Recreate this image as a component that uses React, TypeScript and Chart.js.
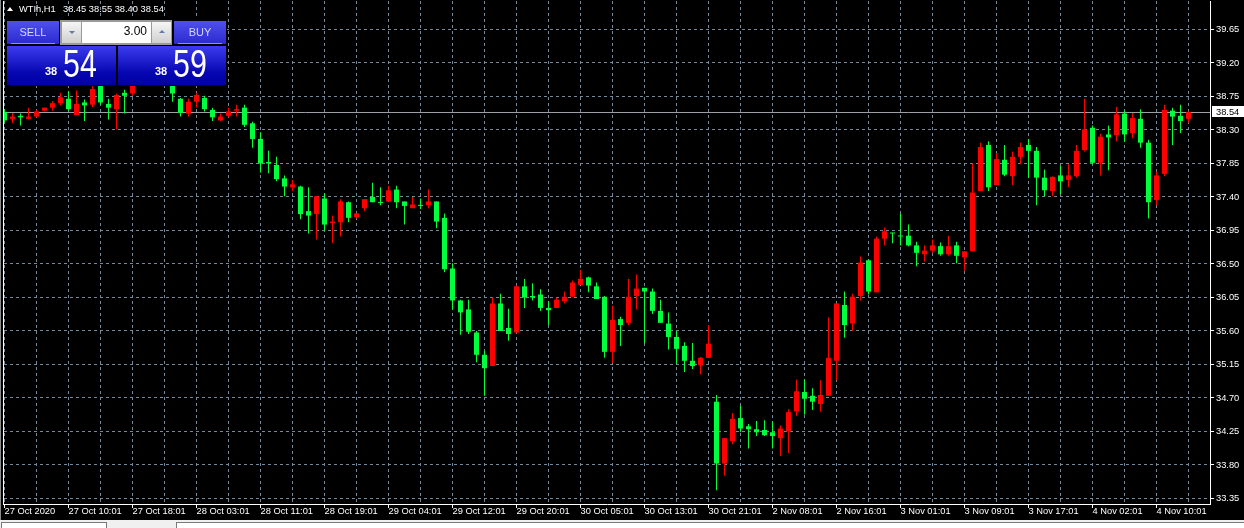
import React, { useEffect, useRef } from "react";
import { Chart, registerables } from "chart.js";

Chart.register(...registerables);

// ---- data (WTIh, H1) ----
const symbolName = "WTIh,H1";

const opens = [38.54,38.45,38.49,38.45,38.48,38.56,38.60,38.66,38.72,38.50,
38.67,38.64,38.92,38.65,38.58,38.80,38.79,38.93,39.01,38.98,
39.02,38.99,38.72,38.52,38.68,38.73,38.57,38.43,38.49,38.56,
38.60,38.39,38.18,37.87,37.83,37.65,37.53,37.54,37.21,37.17,
37.38,37.05,37.06,37.33,37.13,37.25,37.40,37.33,37.34,37.50,
37.34,37.25,37.29,37.29,37.34,37.12,36.44,36.01,35.89,35.58,
35.28,35.13,35.97,35.64,35.58,36.20,36.07,36.09,35.91,35.91,
36.00,36.06,36.22,36.32,36.20,36.06,35.32,35.76,35.71,36.07,
36.18,36.13,35.87,35.70,35.52,35.40,35.20,35.14,35.24,34.65,
33.82,34.12,34.43,34.32,34.28,34.27,34.24,34.16,34.25,34.52,
34.78,34.73,34.62,34.73,35.20,35.95,35.70,36.07,36.55,36.12,
36.84,36.92,36.88,36.88,36.75,36.63,36.68,36.74,36.63,36.75,
36.59,36.67,37.48,38.10,37.56,37.90,37.68,37.94,38.10,38.02,
37.66,37.48,37.69,37.63,37.68,38.03,38.33,37.86,38.24,38.23,
38.52,38.26,38.45,38.13,37.36,37.71,38.56,38.49,38.45];

const highs = [38.58,38.53,38.52,38.60,38.57,38.60,38.69,38.80,38.82,38.83,
38.71,38.89,38.95,38.72,38.79,38.84,38.97,39.05,39.08,39.04,
39.06,39.01,38.73,38.72,38.80,38.76,38.60,38.52,38.60,38.64,
38.64,38.41,38.27,38.02,37.94,37.69,37.63,37.55,37.53,37.41,
37.45,37.15,37.37,37.34,37.18,37.37,37.59,37.53,37.55,37.55,
37.34,37.40,37.38,37.50,37.34,37.18,36.51,36.02,36.02,35.60,
35.33,36.05,36.10,35.90,36.21,36.30,36.24,36.16,36.00,36.05,
36.13,36.28,36.42,36.33,36.25,36.07,35.94,35.79,36.30,36.36,
36.18,36.17,36.02,35.85,35.60,35.45,35.44,35.25,35.68,34.74,
34.16,34.50,34.60,34.35,34.39,34.40,34.38,34.33,34.55,34.95,
34.95,34.83,34.94,35.78,35.97,36.13,36.10,36.60,36.56,36.87,
36.99,36.92,37.18,37.03,36.80,36.75,36.83,36.79,36.88,36.80,
36.67,37.85,38.13,38.15,37.99,38.10,38.01,38.13,38.18,38.07,
37.77,37.68,37.82,37.84,38.10,38.72,38.36,38.25,38.36,38.61,
38.56,38.53,38.58,38.17,37.74,38.64,38.60,38.64,38.55];

const lows = [38.40,38.39,38.36,38.44,38.47,38.55,38.56,38.63,38.56,38.50,
38.42,38.61,38.64,38.44,38.31,38.52,38.76,38.92,38.95,38.94,
38.96,38.68,38.48,38.48,38.60,38.55,38.42,38.42,38.47,38.48,
38.34,38.06,37.73,37.72,37.61,37.41,37.48,37.10,36.91,36.83,
36.95,36.78,36.87,37.06,37.11,37.21,37.33,37.29,37.34,37.25,
37.03,37.25,37.24,37.25,36.98,36.39,35.89,35.55,35.56,35.18,
34.73,35.13,35.60,35.47,35.58,35.91,36.01,35.87,35.68,35.91,
35.97,36.06,36.22,36.12,36.03,35.24,35.17,35.40,35.68,35.89,
35.44,35.83,35.71,35.35,35.16,35.05,35.09,35.02,35.24,33.46,
33.66,34.08,34.24,34.02,34.19,34.19,34.02,33.92,33.96,34.46,
34.48,34.54,34.52,34.73,34.94,35.51,35.60,36.01,36.09,36.12,
36.75,36.78,36.75,36.74,36.47,36.53,36.65,36.61,36.61,36.51,
36.41,36.67,37.48,37.48,37.56,37.68,37.56,37.84,37.66,37.29,
37.41,37.41,37.44,37.53,37.66,38.01,37.84,37.69,37.76,38.15,
38.14,38.19,38.06,37.11,37.29,37.68,38.10,38.26,38.40];

const closes = [38.43,38.48,38.47,38.48,38.55,38.60,38.66,38.74,38.58,38.65,
38.63,38.85,38.67,38.60,38.77,38.76,38.93,39.01,38.98,39.02,
38.99,38.79,38.53,38.68,38.77,38.58,38.47,38.48,38.55,38.58,
38.37,38.18,37.85,37.85,37.64,37.54,37.57,37.17,37.15,37.41,
37.03,37.07,37.34,37.12,37.18,37.37,37.33,37.32,37.49,37.33,
37.28,37.30,37.28,37.34,37.07,36.43,36.01,35.85,35.59,35.28,
35.10,35.97,35.60,35.56,36.20,36.05,36.05,35.91,35.88,36.02,
36.06,36.25,36.30,36.21,36.03,35.32,35.75,35.68,36.06,36.17,
36.13,35.87,35.71,35.52,35.36,35.20,35.13,35.24,35.43,33.82,
34.16,34.42,34.29,34.28,34.24,34.20,34.19,34.29,34.51,34.79,
34.69,34.65,34.74,35.24,35.97,35.68,36.06,36.52,36.13,36.84,
36.94,36.91,36.87,36.75,36.65,36.68,36.75,36.63,36.74,36.61,
36.67,37.46,38.07,37.53,37.91,37.70,37.94,38.07,38.02,37.66,
37.49,37.67,37.61,37.69,38.02,38.31,37.86,38.21,38.20,38.51,
38.24,38.46,38.13,37.33,37.69,38.57,38.48,38.42,38.54];

// one time label every 8 bars, starting at bar 0
const timeLabels = ["27 Oct 2020","27 Oct 10:01","27 Oct 18:01","28 Oct 03:01","28 Oct 11:01",
  "28 Oct 19:01","29 Oct 04:01","29 Oct 12:01","29 Oct 20:01","30 Oct 05:01","30 Oct 13:01",
  "30 Oct 21:01","2 Nov 08:01","2 Nov 16:01","3 Nov 01:01","3 Nov 09:01","3 Nov 17:01",
  "4 Nov 02:01","4 Nov 10:01"];
const barsPerLabel = 8;
const barsPerGrid = 4;

const priceTicks = [33.35,33.80,34.25,34.70,35.15,35.60,36.05,36.50,36.95,37.40,37.85,38.30,38.75,39.20,39.65];
const priceMin = 33.2761;
const priceMax = 40.0328;

const lotSize = "3.00";
const spread = 0.05;

// ---- styles ----
const UP_COLOR = "#ff0000";
const DOWN_COLOR = "#00ff3c";
const GRID_COLOR = "#778899";
const PRICE_LINE_COLOR = "#9ea0a8";
const FONT = "'Liberation Sans', Arial, sans-serif";

const last = closes.length - 1;
const lastClose = closes[last];

function splitPrice(p: number) {
  const s = p.toFixed(2);
  const [a, b] = s.split(".");
  return { big: a, small: b };
}

const txt = (s: React.CSSProperties): React.CSSProperties => ({
  position: "absolute",
  whiteSpace: "nowrap",
  lineHeight: 1,
  fontFamily: FONT,
  ...s,
});

export default function App() {
  const ref = useRef<HTMLCanvasElement | null>(null);

  useEffect(() => {
    const canvas = ref.current;
    if (!canvas) return;
    const colors = closes.map((c, i) => (c >= opens[i] ? UP_COLOR : DOWN_COLOR));

    const pricePlugin = {
      id: "priceMarks",
      beforeDatasetsDraw(chart: any) {
        const { ctx, chartArea, scales } = chart;
        const y = Math.floor(scales.y.getPixelForValue(lastClose)) + 0.5;
        ctx.save();
        ctx.strokeStyle = PRICE_LINE_COLOR;
        ctx.lineWidth = 1;
        ctx.beginPath();
        ctx.moveTo(chartArea.left, y);
        ctx.lineTo(chartArea.right, y);
        ctx.stroke();
        ctx.restore();
      },
      afterDraw(chart: any) {
        const { ctx, chartArea, scales } = chart;
        const y = Math.floor(scales.y.getPixelForValue(lastClose)) + 0.5;
        ctx.save();
        ctx.lineWidth = 1;
        ctx.strokeStyle = "#ffffff";
        ctx.beginPath();
        ctx.moveTo(chartArea.left - 0.5, chartArea.top);
        ctx.lineTo(chartArea.left - 0.5, chartArea.bottom + 1);
        ctx.stroke();
        ctx.strokeStyle = "#8a8a8a";
        ctx.beginPath();
        ctx.moveTo(0.5, 0);
        ctx.lineTo(0.5, 520);
        ctx.stroke();
        const bx = chartArea.right + 2;
        ctx.fillStyle = "#ffffff";
        ctx.fillRect(bx, Math.floor(y) - 6, chart.width - bx, 11);
        ctx.fillStyle = "#000000";
        ctx.font = `9.3px ${FONT}`;
        ctx.textBaseline = "middle";
        ctx.textAlign = "left";
        ctx.fillText(lastClose.toFixed(2), chartArea.right + 6, y);
        ctx.restore();
      },
    };

    const chart = new Chart(canvas, {
      type: "bar",
      data: {
        datasets: [
          {
            label: "wick",
            data: lows.map((l, i) => ({ x: i, y: [l, highs[i]] })) as any,
            backgroundColor: colors,
            barThickness: 1,
            grouped: false,
            inflateAmount: 0,
            order: 2,
          } as any,
          {
            label: "body",
            data: opens.map((o, i) => ({ x: i, y: [o, closes[i]] })) as any,
            backgroundColor: colors,
            barThickness: 5,
            minBarLength: 1,
            grouped: false,
            inflateAmount: 0,
            order: 1,
          } as any,
        ],
      },
      options: {
        animation: false,
        responsive: false,
        maintainAspectRatio: false,
        devicePixelRatio: 1,
        layout: { padding: { left: 4, top: 1, right: 0, bottom: 0 } },
        plugins: { legend: { display: false }, tooltip: { enabled: false } },
        events: [],
        scales: {
          x: {
            type: "linear",
            position: "bottom",
            min: -0.0625,
            max: 150.6875,
            offset: false,
            afterBuildTicks: (s: any) => {
              const t: any[] = [];
              for (let i = 0; i < closes.length; i += barsPerGrid) t.push({ value: i });
              s.ticks = t;
            },
            afterFit: (s: any) => {
              s.height = 24;
              s.paddingLeft = 0;
              s.paddingRight = 0;
            },
            ticks: {
              autoSkip: false,
              maxRotation: 0,
              minRotation: 0,
              align: "start",
              padding: -1,
              color: "#ffffff",
              font: { family: FONT, size: 9.3, lineHeight: 1 },
              callback: (v: any) => {
                const n = Math.round(Number(v));
                return n % barsPerLabel === 0 ? timeLabels[n / barsPerLabel] ?? "" : "";
              },
            },
            grid: {
              offset: false,
              color: GRID_COLOR,
              lineWidth: 1,
              tickLength: 4,
              tickColor: (c: any) =>
                c.tick && Math.round(c.tick.value) % barsPerLabel === 0 ? "#ffffff" : "rgba(0,0,0,0)",
            },
            border: { display: true, color: "#ffffff", width: 1, dash: [3, 3] },
          } as any,
          y: {
            type: "linear",
            position: "right",
            min: priceMin,
            max: priceMax,
            beginAtZero: false,
            afterBuildTicks: (s: any) => {
              s.ticks = priceTicks.map((v) => ({ value: v }));
            },
            afterFit: (s: any) => {
              s.width = 34;
              s.paddingTop = 0;
              s.paddingBottom = 0;
            },
            ticks: {
              padding: 2,
              color: "#ffffff",
              font: { family: FONT, size: 9.3 },
              callback: (v: any) => Number(v).toFixed(2),
            },
            grid: {
              color: GRID_COLOR,
              lineWidth: 1,
              tickLength: 4,
              tickColor: "#ffffff",
            },
            border: { display: true, color: "#ffffff", width: 1, dash: [3, 3] },
          } as any,
        },
      },
      plugins: [pricePlugin],
    });
    return () => chart.destroy();
  }, []);

  const sell = splitPrice(lastClose);
  const buy = splitPrice(lastClose + spread);
  const header = [opens[last], highs[last], lows[last], closes[last]].map((v) => v.toFixed(2)).join(" ");

  const btnBg = "linear-gradient(#5050ec, #2a2ad0)";
  const boxBg = "linear-gradient(#3c3cf0, #0606b0 70%, #0000a4)";
  const spinBtn = "linear-gradient(#f6f6f6, #cfcfcf)";

  return (
    <div style={{ position: "absolute", left: 0, top: 0, width: 1244, height: 528, background: "#000", overflow: "hidden" }}>
      <canvas ref={ref} width={1244} height={528} style={{ position: "absolute", left: 0, top: 0 }} />

      {/* header */}
      <div style={{ position: "absolute", left: 7, top: 7, width: 0, height: 0, borderLeft: "3px solid transparent", borderRight: "3px solid transparent", borderBottom: "4px solid #fff" }} />
      <div style={txt({ left: 19, top: 5, fontSize: 9.3, color: "#ffffff" })}>{symbolName}</div>
      <div style={txt({ left: 63, top: 5, fontSize: 9.3, color: "#ffffff" })}>{header}</div>

      {/* one-click trading panel */}
      <div style={{ position: "absolute", left: 6, top: 19, width: 221, height: 67, background: "#000" }} />
      <div style={{ position: "absolute", left: 7, top: 21, width: 52, height: 23, background: btnBg }} />
      <div style={{ position: "absolute", left: 11, top: 43, width: 44, height: 1, background: "#8c8cff" }} />
      <div style={txt({ left: 7, top: 27, width: 52, textAlign: "center", fontSize: 11, color: "#d4d8ff" })}>SELL</div>

      <div style={{ position: "absolute", left: 174, top: 21, width: 52, height: 23, background: btnBg }} />
      <div style={{ position: "absolute", left: 178, top: 43, width: 44, height: 1, background: "#8c8cff" }} />
      <div style={txt({ left: 174, top: 27, width: 52, textAlign: "center", fontSize: 11, color: "#d4d8ff" })}>BUY</div>

      <div style={{ position: "absolute", left: 60, top: 20, width: 112, height: 25, background: "#9a9a9a" }} />
      <div style={{ position: "absolute", left: 62, top: 22, width: 19, height: 21, background: spinBtn }} />
      <div style={{ position: "absolute", left: 82, top: 22, width: 69, height: 21, background: "#ffffff" }} />
      <div style={{ position: "absolute", left: 152, top: 22, width: 19, height: 21, background: spinBtn }} />
      <div style={{ position: "absolute", left: 69, top: 31, width: 0, height: 0, borderLeft: "3px solid transparent", borderRight: "3px solid transparent", borderTop: "3px solid #6878a8" }} />
      <div style={{ position: "absolute", left: 159, top: 30, width: 0, height: 0, borderLeft: "3px solid transparent", borderRight: "3px solid transparent", borderBottom: "3px solid #6878a8" }} />
      <div style={txt({ left: 82, top: 25, width: 65, textAlign: "right", fontSize: 12, color: "#000" })}>{lotSize}</div>

      <div style={{ position: "absolute", left: 7, top: 46, width: 109, height: 39, background: boxBg }} />
      <div style={{ position: "absolute", left: 118, top: 46, width: 108, height: 39, background: boxBg }} />
      <div style={txt({ left: 45, top: 66.4, fontSize: 11, fontWeight: "bold", color: "#ffffff" })}>{sell.big}</div>
      <div style={txt({ left: 62.5, top: 45.1, fontSize: 38, color: "#ffffff", transform: "scaleX(0.8)", transformOrigin: "left top" })}>{sell.small}</div>
      <div style={txt({ left: 155, top: 66.4, fontSize: 11, fontWeight: "bold", color: "#ffffff" })}>{buy.big}</div>
      <div style={txt({ left: 172.5, top: 45.1, fontSize: 38, color: "#ffffff", transform: "scaleX(0.8)", transformOrigin: "left top" })}>{buy.small}</div>

      {/* bottom tab strip */}
      <div style={{ position: "absolute", left: 0, top: 520, width: 1244, height: 8, background: "#f0f0f0" }} />
      <div style={{ position: "absolute", left: 1, top: 522, width: 104, height: 8, background: "#fff", border: "1px solid #7a7a7a" }} />
      <div style={{ position: "absolute", left: 176, top: 522, width: 1068, height: 8, background: "#fff", border: "1px solid #7a7a7a" }} />
    </div>
  );
}
